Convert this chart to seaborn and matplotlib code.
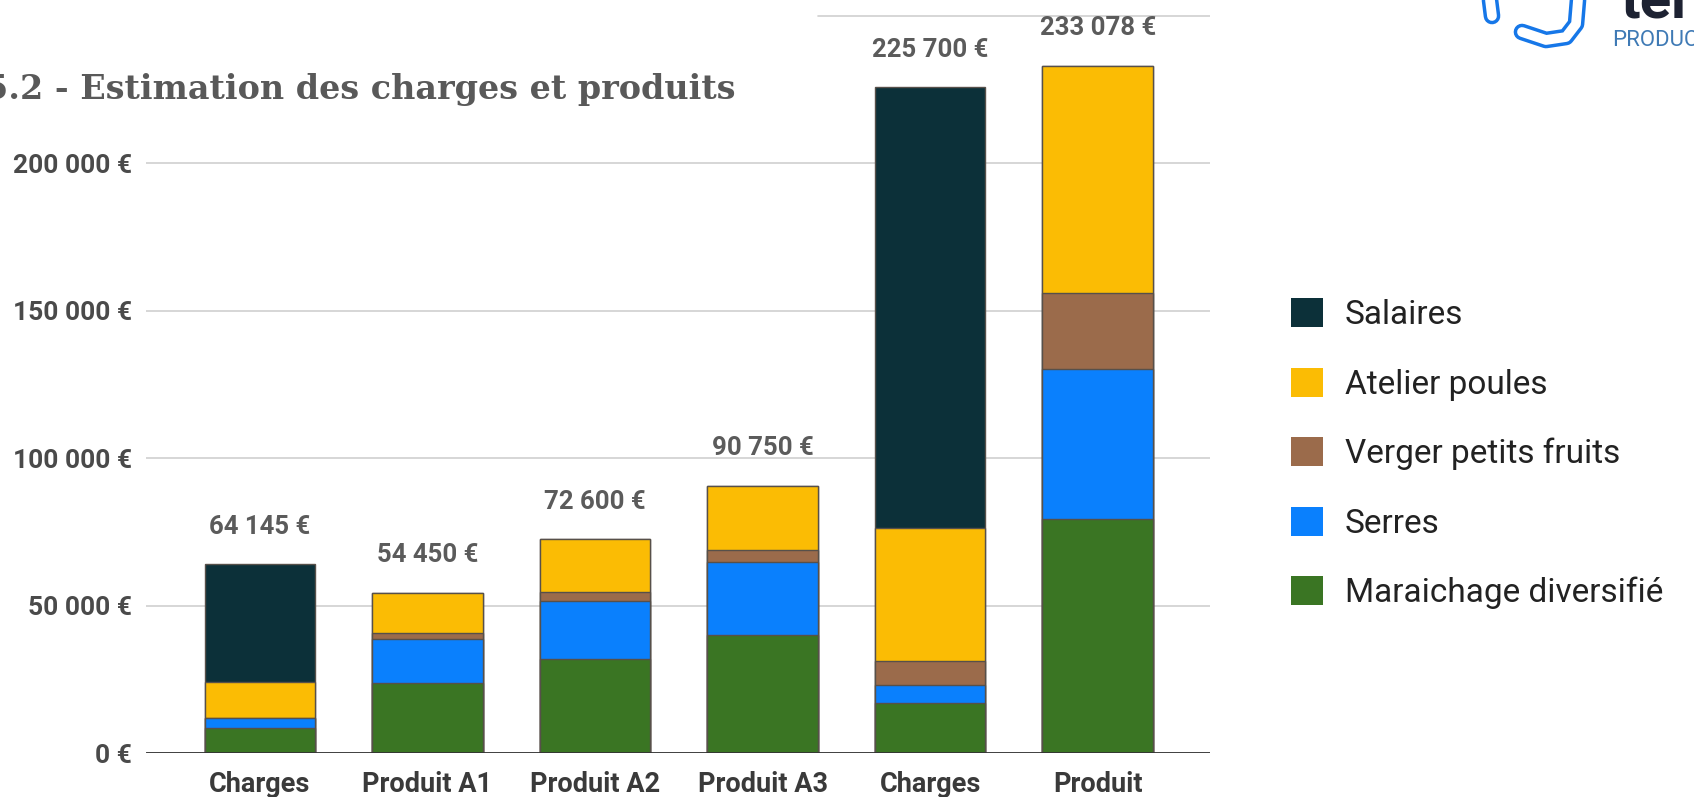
import numpy as np
import pandas as pd
import matplotlib.pyplot as plt
import seaborn as sns
from matplotlib.patches import Patch
from matplotlib.ticker import FuncFormatter
from matplotlib.lines import Line2D

# --- data ---
bar_labels = ["Charges", "Produit A1", "Produit A2", "Produit A3", "Charges", "Produit"]
maraichage = [8500, 24000, 32000, 40000, 17000, 79400]
serres = [3600, 14700, 19700, 24800, 6200, 50800]
verger = [0, 2000, 2900, 4000, 8100, 26000]
poules = [12200, 13750, 18000, 21950, 45100, 76878]
salaires = [39845, 0, 0, 0, 149300, 0]

series_names = ["Maraichage diversifié", "Serres", "Verger petits fruits", "Atelier poules", "Salaires"]
series_colors = ["#3a7523", "#0a80fd", "#9b6b4b", "#fbbc04", "#0c3039"]
y_ticks = [0, 50000, 100000, 150000, 200000]

df = pd.DataFrame({
    "pos": list(range(len(bar_labels))),
    "Maraichage diversifié": maraichage,
    "Serres": serres,
    "Verger petits fruits": verger,
    "Atelier poules": poules,
    "Salaires": salaires,
})
# cumulative heights, bottom layer first
cum = df[series_names].cumsum(axis=1)
for name in series_names:
    df["cum_" + name] = cum[name]
totals = cum["Salaires"].tolist()

sns.set_theme(style="white")
plt.rcParams["font.family"] = ["Roboto", "DejaVu Sans"]

def euro(v, pos=None):
    return f"{int(round(v)):,}".replace(",", "\u202f") + "\u00a0€"

fig = plt.figure(figsize=(16.94, 7.97), dpi=100)
ax = fig.add_axes([146 / 1694, 43.7 / 797, 1064 / 1694, 743.4 / 797])

# draw the stacks from the top layer down so each one overlays the last
for name, color in reversed(list(zip(series_names, series_colors))):
    sns.barplot(data=df, x="pos", y="cum_" + name, color=color, saturation=1,
                width=0.66, errorbar=None, edgecolor="#57504a", linewidth=1.0,
                ax=ax, zorder=3)

ax.set_xlim(-0.68, 5.67)
ax.set_ylim(0, 252000)
ax.set_yticks(y_ticks)
ax.yaxis.set_major_formatter(FuncFormatter(euro))
ax.yaxis.grid(True, color="#d0d0d0", linewidth=1.2)
ax.axhline(250000, xmin=0.632, color="#d0d0d0", linewidth=1.2, zorder=0)
ax.set_axisbelow(True)
ax.axhline(0, color="#333333", linewidth=2.0, zorder=4)
for s in ax.spines.values():
    s.set_visible(False)

ax.set_xticks(range(len(bar_labels)))
ax.set_xticklabels(bar_labels, fontsize=19.5, fontweight="bold", color="#3a3a3a")
ax.tick_params(axis="x", length=0, pad=13)
ax.tick_params(axis="y", length=0, pad=10, labelsize=19, labelcolor="#4a4a4a")
for lab in ax.get_yticklabels():
    lab.set_fontweight("bold")
ax.set_xlabel("")
ax.set_ylabel("")

# totals above bars
for i, t in enumerate(totals):
    ax.annotate(euro(t), (i, t), xytext=(0, 27), textcoords="offset points",
                ha="center", va="center", fontsize=18.5, fontweight="bold",
                color="#5b5b5b", annotation_clip=False)

# legend, top layer first
handles = [Patch(facecolor=c, edgecolor="none") for c in reversed(series_colors)]
ax.legend(handles, list(reversed(series_names)), loc="upper left",
          bbox_to_anchor=(1291 / 1694, (797 - 298) / 797), bbox_transform=fig.transFigure,
          frameon=False, fontsize=24, handlelength=0.96, handleheight=0.96,
          labelspacing=1.1, handletextpad=0.66, borderpad=0, borderaxespad=0,
          labelcolor="#222222")

# title (cut at the left edge like the screenshot)
fig.text(735 / 1694, (797 - 89) / 797, "5.2 - Estimation des charges et produits",
         ha="right", va="center", fontsize=24, fontweight="bold",
         family="DejaVu Serif", color="#595959")

# partial logo at top right
fig.text(1621 / 1694, (797 - 17) / 797, "ter", ha="left", va="baseline",
         fontsize=42, fontweight="bold", color="#1d2232")
fig.text(1612 / 1694, (797 - 40) / 797, "PRODUC", ha="left", va="center",
         fontsize=16, color="#3f7ab5")
for xs, ys in [([1578, 1576, 1566, 1546, 1522], [0, 24, 37, 40, 32]), ([1490, 1492], [0, 16])]:
    xs = np.array(xs) / 1694
    ys = (797 - np.array(ys)) / 797
    fig.add_artist(Line2D(xs, ys, transform=fig.transFigure, color="#1677e8", lw=12,
                          solid_capstyle="round", solid_joinstyle="round"))
    fig.add_artist(Line2D(xs, ys, transform=fig.transFigure, color="#ffffff", lw=7,
                          solid_capstyle="round", solid_joinstyle="round"))

fig.savefig("out.png", dpi=100)
